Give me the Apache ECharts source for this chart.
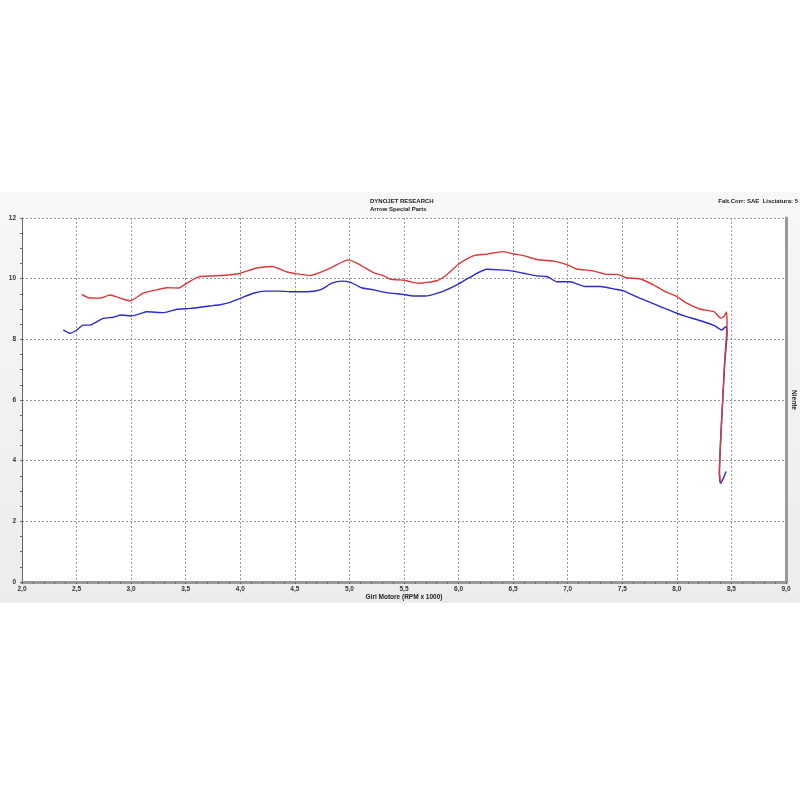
<!DOCTYPE html>
<html>
<head>
<meta charset="utf-8">
<script src="https://cdn.jsdelivr.net/npm/echarts@6/dist/echarts.min.js"></script>
<style>html,body{margin:0;padding:0;background:#fff}#c{width:800px;height:800px}</style>
</head>
<body>
<div id="c"></div>
<script>
const redRpm = [2.547,2.61,2.715,2.807,2.898,2.99,3.11,3.23,3.33,3.43,3.51,3.616,3.75,3.906,4.0,4.15,4.29,4.43,4.50,4.64,4.82,4.99,5.10,5.22,5.31,5.37,5.51,5.63,5.80,5.89,6.01,6.14,6.26,6.40,6.50,6.595,6.72,6.87,6.93,7.02,7.08,7.24,7.36,7.45,7.54,7.665,7.79,7.88,8.0,8.09,8.21,8.34,8.40,8.43,8.455,8.46,8.44,8.42,8.40,8.39,8.40];
const redTorque = [9.48,9.37,9.36,9.46,9.36,9.27,9.52,9.63,9.70,9.69,9.85,10.06,10.09,10.13,10.18,10.35,10.40,10.22,10.17,10.11,10.34,10.62,10.45,10.20,10.10,9.99,9.94,9.85,9.93,10.12,10.51,10.76,10.81,10.89,10.82,10.76,10.63,10.58,10.53,10.42,10.32,10.25,10.14,10.14,10.03,9.99,9.79,9.60,9.41,9.19,9.00,8.91,8.70,8.75,8.90,8.5,7.4,6.0,4.6,3.6,3.28];
const blueRpm = [2.379,2.44,2.50,2.56,2.62,2.68,2.745,2.837,2.91,3.0,3.07,3.14,3.30,3.42,3.54,3.72,3.815,3.906,4.0,4.12,4.23,4.36,4.456,4.61,4.73,4.84,4.93,5.01,5.11,5.22,5.34,5.495,5.59,5.69,5.83,5.98,6.14,6.26,6.38,6.50,6.595,6.72,6.81,6.90,7.02,7.16,7.30,7.44,7.51,7.665,7.85,8.0,8.09,8.245,8.35,8.41,8.45,8.46,8.44,8.42,8.40,8.39,8.40,8.43,8.45];
const blueTorque = [8.31,8.20,8.30,8.47,8.47,8.57,8.69,8.73,8.80,8.77,8.83,8.91,8.88,8.99,9.02,9.10,9.14,9.22,9.35,9.52,9.59,9.59,9.57,9.57,9.63,9.85,9.92,9.88,9.70,9.63,9.54,9.48,9.43,9.43,9.55,9.79,10.12,10.31,10.29,10.25,10.18,10.09,10.07,9.90,9.90,9.74,9.74,9.65,9.60,9.35,9.08,8.86,8.75,8.58,8.44,8.31,8.42,8.2,7.3,6.0,4.6,3.6,3.25,3.45,3.64];

const titleTop = 'DYNOJET RESEARCH';
const titleSub = 'Arrow Special Parts';
const corrText = 'Falt.Corr: SAE  Lisciatura: 5';
const xName = 'Giri Motore (RPM x 1000)';
const yName = 'Coppia (Kg-M)';
const rightName = 'Niente';

const zip = (a, b) => a.map((v, i) => [v, b[i]]);
const font = 'Liberation Sans';

const chart = echarts.init(document.getElementById('c'));
chart.setOption({
  backgroundColor: '#fff',
  animation: false,
  graphic: [
    { type: 'rect', z: -10, shape: { x: 0, y: 192, width: 800, height: 411 },
      style: { fill: new echarts.graphic.LinearGradient(0, 0, 0, 1, [{offset: 0, color: '#f7f7f7'}, {offset: 1, color: '#ececec'}]) } },
    { type: 'text', left: 370, top: 198, style: { text: titleTop, font: 'bold 6px ' + font, fill: '#222' } },
    { type: 'text', left: 370, top: 206, style: { text: titleSub, font: 'bold 6px ' + font, fill: '#222' } },
    { type: 'text', right: 2, top: 198, style: { text: corrText, font: 'bold 6px ' + font, fill: '#222' } }
  ],
  grid: { left: 22, right: 14, top: 218, bottom: 218, show: true, backgroundColor: '#fff', borderWidth: 0,
    containLabel: false, outerBoundsMode: 'none' },
  xAxis: {
    type: 'value', min: 2, max: 9, interval: 0.5,
    name: xName, nameLocation: 'middle', nameGap: 12,
    nameTextStyle: { fontFamily: font, fontSize: 6.5, fontWeight: 'bold', color: '#222' },
    axisLine: { lineStyle: { color: '#999', width: 3 } },
    axisTick: { show: true, length: 2, lineStyle: { color: '#666' } },
    minorTick: { show: true, splitNumber: 5, length: 2, lineStyle: { color: '#666' } },
    axisLabel: { fontFamily: font, fontSize: 6.5, fontWeight: 'bold', color: '#333', margin: 4,
      formatter: v => v.toFixed(1).replace('.', ',') },
    splitLine: { show: true, lineStyle: { color: '#999', type: [2, 2], width: 1 } }
  },
  yAxis: [{
    type: 'value', min: 0, max: 12, interval: 2,
    name: yName, nameLocation: 'middle', nameGap: 13, nameRotate: 90,
    nameTextStyle: { fontFamily: font, fontSize: 6.5, fontWeight: 'bold', color: '#222' },
    axisLine: { show: true, lineStyle: { color: '#666', width: 1 } },
    axisTick: { show: true, length: 2, lineStyle: { color: '#666' } },
    minorTick: { show: true, splitNumber: 4, length: 2, lineStyle: { color: '#666' } },
    axisLabel: { fontFamily: font, fontSize: 6.5, fontWeight: 'bold', color: '#333', margin: 6 },
    splitLine: { show: true, lineStyle: { color: '#999', type: [2, 2], width: 1 } }
  }, {
    type: 'value', min: 0, max: 12, interval: 2, position: 'right',
    name: rightName, nameLocation: 'middle', nameGap: 4, nameRotate: -90,
    nameTextStyle: { fontFamily: font, fontSize: 6.5, fontWeight: 'bold', color: '#222' },
    axisLine: { show: true, lineStyle: { color: '#999', width: 3 } },
    axisTick: { show: false }, axisLabel: { show: false }, splitLine: { show: false }
  }],
  series: [
    { type: 'line', data: zip(blueRpm, blueTorque), showSymbol: false, symbol: 'none', smooth: 0.2,
      lineStyle: { color: '#2a2ac8', width: 1.4 }, z: 3 },
    { type: 'line', data: zip(redRpm, redTorque), showSymbol: false, symbol: 'none', smooth: 0.2,
      lineStyle: { color: '#d83838', width: 1.4 }, z: 4 }
  ]
});
</script>
</body>
</html>
